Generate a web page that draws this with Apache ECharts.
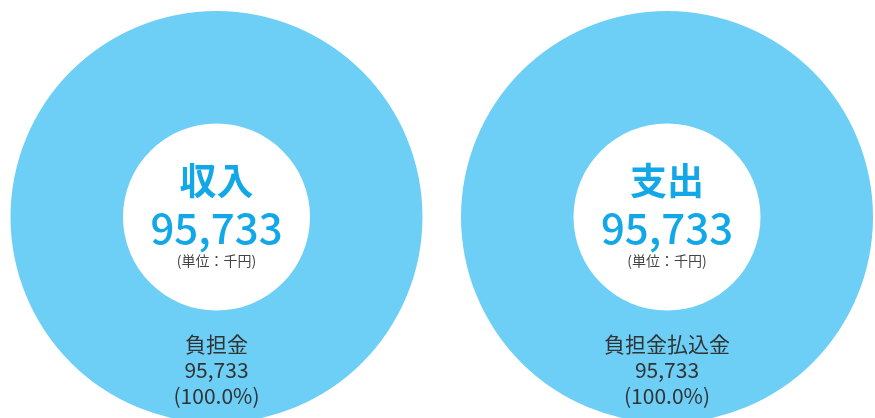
<!DOCTYPE html>
<html><head><meta charset="utf-8">
<script src="https://cdn.jsdelivr.net/npm/echarts@6/dist/echarts.min.js"></script>
<style>html,body{margin:0;padding:0;background:#fff}#c{width:875px;height:418px}</style>
</head><body><div id="c"></div>
<script>
const chartTitles = ['収入', '支出'];
const totals = [95733, 95733];
const unitLabel = '(単位：千円)';
const incomeCategories = ['負担金'];
const incomeValues = [95733];
const expenseCategories = ['負担金払込金'];
const expenseValues = [95733];

const fmt = v => v.toLocaleString('en-US');
const FONT = '"Noto Sans CJK JP", "Noto Sans", sans-serif';
const ringColor = '#6dcff6';
const blue = '#12a8e8';
const centers = [[216.5, 217], [667, 217]];
const datasets = [[incomeCategories, incomeValues], [expenseCategories, expenseValues]];

const chart = echarts.init(document.getElementById('c'));
const series = datasets.map((d, i) => ({
  type: 'pie',
  center: centers[i],
  radius: [93.5, 206],
  startAngle: 90,
  silent: true,
  itemStyle: { color: ringColor, borderWidth: 0 },
  label: {
    show: true,
    position: 'inside',
    color: '#333',
    fontFamily: FONT,
    fontSize: 21,
    lineHeight: 26,
    padding: [12, 0, 0, 0],
    formatter: p => p.name + '\n' + fmt(p.value) + '\n(' + p.percent.toFixed(1) + '%)'
  },
  labelLine: { show: false },
  data: d[0].map((n, k) => ({ name: n, value: d[1][k] }))
}));

const graphic = [];
centers.forEach((c, i) => {
  graphic.push({ type: 'text', x: c[0], y: 181, style: { text: chartTitles[i], fill: blue, font: 'bold 37px ' + FONT, textAlign: 'center', textVerticalAlign: 'middle' } });
  graphic.push({ type: 'text', x: c[0], y: 228, style: { text: fmt(totals[i]), fill: blue, font: '500 42px ' + FONT, textAlign: 'center', textVerticalAlign: 'middle' } });
  graphic.push({ type: 'text', x: c[0], y: 261, style: { text: unitLabel, fill: '#444', font: '14px ' + FONT, textAlign: 'center', textVerticalAlign: 'middle' } });
});

chart.setOption({ animation: false, series, graphic });
</script></body></html>
